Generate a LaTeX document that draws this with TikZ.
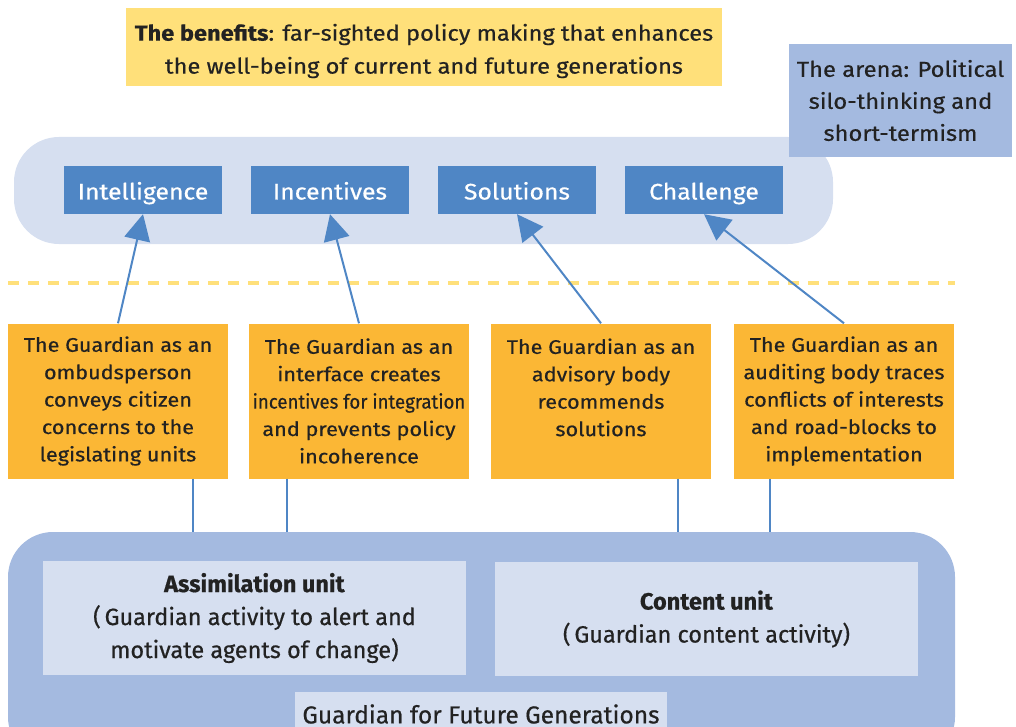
\documentclass[tikz,border=0pt]{standalone}
\usepackage{fontspec}
\usepackage{graphicx}
\setmainfont{Fira Sans}[FakeStretch=1.1,FakeBold=0.5]
\newfontfamily\condfont{Fira Sans}[FakeBold=0.6]
\usetikzlibrary{arrows.meta,calc}
\definecolor{ylight}{HTML}{FFE07A}
\definecolor{arenab}{HTML}{A4BAE0}
\definecolor{lightb}{HTML}{D6DFF0}
\definecolor{midb}{HTML}{4F86C5}
\definecolor{orangeb}{HTML}{FBB735}
\definecolor{txt}{HTML}{222222}
\begin{document}
\begin{tikzpicture}[x=1pt,y=-1pt,
  bluebox/.style={fill=midb,text=white,minimum width=158pt,minimum height=48pt,inner sep=0pt,text height=19.5pt,text depth=0.5pt,font=\fontsize{22.5}{24}\selectfont},
  orbox/.style={fill=orangeb,text=txt,minimum width=220pt,minimum height=155pt,inner sep=0pt,align=center,font=\fontsize{19.7}{27.4}\selectfont},
  unitbox/.style={fill=lightb,text=txt,minimum width=423pt,minimum height=114pt,inner sep=0pt,align=center,font=\condfont\fontsize{23.5}{33}\selectfont},
  arr/.style={draw=midb,line width=2pt,-{Triangle[length=26pt,width=26pt]}},
  conn/.style={draw=midb,line width=2pt}]
\useasboundingbox (0,0) rectangle (1016,727);
\begin{scope}
\clip (0,0) rectangle (1016,727);
% benefits
\node[fill=ylight,minimum width=596pt,minimum height=78pt,inner sep=0pt] (benefits) at (424,47) {};
\node[text=txt,inner sep=0pt,align=center,font=\fontsize{21.5}{33}\selectfont] (benefitstxt) at (424,51)
  {\textbf{The benefits}: far-sighted policy making that enhances\\the well-being of current and future generations};
% upper rounded
\node[fill=lightb,rounded corners=45pt,minimum width=819pt,minimum height=107pt,inner sep=0pt] (arenabg) at (423.5,190.5) {};
% arena
\node[fill=arenab,text=txt,minimum width=223pt,minimum height=113pt,inner sep=0pt,align=center,font=\fontsize{21.6}{32}\selectfont] (arena) at (900.5,100.5)
  {The arena: Political\\silo-thinking and\\short-termism};
% blue boxes
\node[bluebox] (intel) at (143,190) {Intelligence};
\node[bluebox] (incent) at (330,190) {Incentives};
\node[bluebox] (solut) at (517,190) {Solutions};
\node[bluebox] (chall) at (704,190) {Challenge};
% dashed line
\coordinate (dl) at (8,283);
\coordinate (dr) at (955,283);
\draw[ylight,line width=4.5pt,dash pattern=on 11pt off 9pt] (dl) -- (dr);
% orange boxes
\node[orbox] (o1) at (118,401) {The Guardian as an\\ombudsperson\\conveys citizen\\concerns to the\\legislating units};
\node[orbox] (o2) at (359,401) {The Guardian as an\\interface creates\\\scalebox{0.86}[1]{incentives for integration}\\and prevents policy\\incoherence};
\node[orbox] (o3) at (601,401) {The Guardian as an\\advisory body\\recommends\\solutions\\\mbox{}};
\node[orbox] (o4) at (844,401) {The Guardian as an\\auditing body traces\\conflicts of interests\\and road-blocks to\\implementation};
% arrows
\draw[arr] (o1.north) -- (intel.south);
\draw[arr] (o2.north) -- (incent.south);
\draw[arr] (o3.north) -- (solut.south);
\draw[arr] (o4.north) -- (chall.south);
% bottom big box
\node[fill=arenab,rounded corners=45pt,minimum width=947pt,minimum height=230pt,inner sep=0pt] (big) at (481.5,647) {};
\coordinate (big top) at (481.5,532);
\draw[conn] ($(o1.south east)+(-35,0)$) coordinate (c1) -- (c1 |- big top);
\draw[conn] ($(o2.south west)+(38,0)$) coordinate (c2) -- (c2 |- big top);
\draw[conn] ($(o3.south east)+(-33,0)$) coordinate (c3) -- (c3 |- big top);
\draw[conn] ($(o4.south west)+(36,0)$) coordinate (c4) -- (c4 |- big top);
\node[unitbox] (assim) at (254.5,618) {\textbf{Assimilation unit}\\(\,Guardian activity to alert and\\motivate agents of change)};
\node[unitbox] (content) at (706.5,619) {\textbf{Content unit}\\(\,Guardian content activity)};
\node[fill=lightb,minimum width=372pt,minimum height=50pt,inner sep=0pt] (guard) at (481,717) {};
\node[text=txt,inner sep=0pt,font=\condfont\fontsize{24.5}{26}\selectfont] (guardtxt) at (481,714) {Guardian for Future Generations};
\end{scope}
\end{tikzpicture}
\end{document}
